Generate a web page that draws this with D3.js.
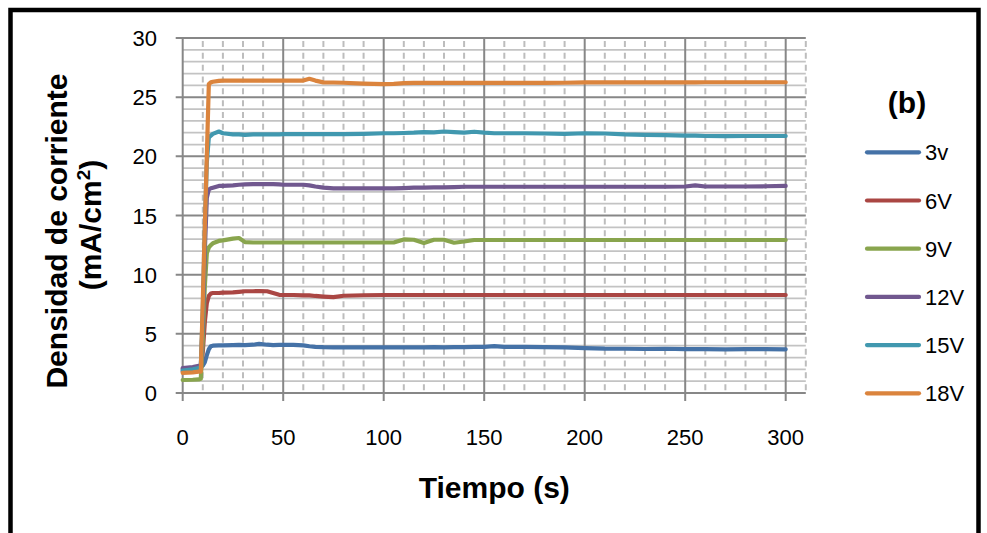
<!doctype html>
<html lang="es">
<head>
<meta charset="utf-8">
<script src="https://d3js.org/d3.v7.min.js"></script>
<style>
  body { margin: 0; background: #fff; }
  svg text { font-family: "Liberation Sans", Arial, sans-serif; fill: #000; }
  .tick-lbl { font-size: 22px; }
  .title { font-size: 30px; font-weight: bold; }
</style>
</head>
<body>
<svg id="chart" width="987" height="533"></svg>
<script>
// time samples (s)
const times = [0, 5, 8, 9, 10, 11, 12, 13, 14, 15, 18, 20, 25, 28, 31, 35, 38, 42, 45, 48,
  50, 55, 60, 63, 66, 70, 75, 80, 90, 100, 105, 110, 115, 120, 125, 130, 135, 140, 145, 150,
  155, 160, 170, 180, 190, 200, 210, 220, 230, 240, 250, 255, 260, 270, 280, 290, 300];

// current density (mA/cm2) per voltage
const v3 = [2.0, 2.1, 2.2, 2.25, 2.3, 2.6, 3.2, 3.7, 3.95, 4.0, 4.02, 4.03, 4.05, 4.07, 4.05, 4.08, 4.15, 4.08, 4.05, 4.06,
  4.06, 4.06, 4.02, 3.95, 3.9, 3.87, 3.86, 3.86, 3.86, 3.86, 3.86, 3.86, 3.86, 3.86, 3.87, 3.86, 3.88, 3.87, 3.9, 3.9,
  3.96, 3.9, 3.9, 3.88, 3.85, 3.8, 3.75, 3.74, 3.72, 3.74, 3.7, 3.72, 3.7, 3.68, 3.7, 3.7, 3.69];
const v6 = [1.8, 1.85, 1.9, 1.9, 3.5, 6.0, 7.6, 8.2, 8.4, 8.45, 8.45, 8.48, 8.5, 8.55, 8.6, 8.6, 8.62, 8.6, 8.45, 8.3,
  8.28, 8.28, 8.25, 8.25, 8.2, 8.15, 8.1, 8.22, 8.26, 8.28, 8.28, 8.28, 8.28, 8.28, 8.28, 8.28, 8.28, 8.28, 8.28, 8.28,
  8.28, 8.28, 8.28, 8.28, 8.28, 8.28, 8.28, 8.28, 8.28, 8.28, 8.28, 8.28, 8.28, 8.28, 8.28, 8.28, 8.28];
const v9 = [1.1, 1.12, 1.15, 1.2, 4.5, 9.0, 11.8, 12.3, 12.5, 12.65, 12.85, 12.9, 13.05, 13.1, 12.75, 12.72, 12.72, 12.72, 12.72, 12.72,
  12.72, 12.72, 12.72, 12.72, 12.72, 12.72, 12.72, 12.72, 12.72, 12.72, 12.72, 12.98, 12.95, 12.68, 12.95, 12.95, 12.7, 12.8, 12.93, 12.93,
  12.93, 12.93, 12.93, 12.93, 12.93, 12.93, 12.93, 12.93, 12.93, 12.93, 12.93, 12.93, 12.93, 12.93, 12.93, 12.93, 12.93];
const v12 = [2.1, 2.2, 2.3, 2.3, 6.0, 12.0, 16.5, 17.2, 17.3, 17.35, 17.5, 17.5, 17.55, 17.6, 17.63, 17.65, 17.65, 17.65, 17.65, 17.63,
  17.6, 17.6, 17.6, 17.55, 17.45, 17.35, 17.3, 17.3, 17.3, 17.3, 17.3, 17.32, 17.35, 17.35, 17.37, 17.38, 17.4, 17.43, 17.43, 17.43,
  17.43, 17.43, 17.43, 17.43, 17.43, 17.43, 17.43, 17.43, 17.43, 17.43, 17.45, 17.55, 17.45, 17.45, 17.45, 17.47, 17.5];
const v15 = [1.9, 2.0, 2.1, 2.1, 7.0, 14.0, 19.5, 21.6, 21.75, 21.9, 22.1, 21.95, 21.85, 21.85, 21.82, 21.85, 21.85, 21.85, 21.85, 21.85,
  21.87, 21.87, 21.87, 21.87, 21.87, 21.87, 21.87, 21.87, 21.9, 21.95, 21.95, 21.97, 22.0, 22.05, 22.03, 22.1, 22.05, 22.0, 22.08, 22.0,
  21.95, 21.95, 21.95, 21.93, 21.9, 21.95, 21.93, 21.85, 21.82, 21.8, 21.75, 21.75, 21.72, 21.7, 21.72, 21.72, 21.72];
const v18 = [1.7, 1.75, 1.8, 1.8, 7.8, 14.0, 20.0, 26.1, 26.25, 26.3, 26.38, 26.4, 26.4, 26.4, 26.4, 26.4, 26.4, 26.4, 26.4, 26.4,
  26.4, 26.4, 26.4, 26.55, 26.4, 26.25, 26.24, 26.22, 26.15, 26.1, 26.12, 26.18, 26.2, 26.2, 26.2, 26.2, 26.2, 26.2, 26.2, 26.2,
  26.2, 26.2, 26.2, 26.2, 26.22, 26.25, 26.25, 26.25, 26.25, 26.25, 26.25, 26.25, 26.26, 26.26, 26.26, 26.26, 26.26];

const seriesNames = ["3v", "6V", "9V", "12V", "15V", "18V"];
const seriesValues = [v3, v6, v9, v12, v15, v18];
const colors = ["#4572A7", "#AA4643", "#89A54E", "#71588F", "#4198AF", "#DB843D"];

const xTicks = [0, 50, 100, 150, 200, 250, 300];
const yTicks = [0, 5, 10, 15, 20, 25, 30];

const svg = d3.select("#chart");

// outer frame
svg.append("rect")
  .attr("x", 10.5).attr("y", 10).attr("width", 968).attr("height", 560)
  .attr("fill", "none").attr("stroke", "#000").attr("stroke-width", 4.5);

const x = d3.scaleLinear().domain([0, 310]).range([182.7, 805.8]);
const y = d3.scaleLinear().domain([0, 30]).range([393, 38]);
const unit = y(0) - y(1);

const grid = svg.append("g");

// minor horizontal lines (every 1)
grid.selectAll("line.hmin")
  .data(d3.range(1, 30).filter(d => d % 5 !== 0))
  .join("line")
  .attr("x1", x(0)).attr("x2", x(310))
  .attr("y1", d => y(d)).attr("y2", d => y(d))
  .attr("stroke", "#c3c3c3").attr("stroke-width", 1.75);

// minor vertical dashed lines (every 10)
grid.selectAll("line.vmin")
  .data(d3.range(10, 311, 10).filter(d => d % 50 !== 0))
  .join("line")
  .attr("x1", d => x(d)).attr("x2", d => x(d))
  .attr("y1", y(30)).attr("y2", y(0))
  .attr("stroke", "#bdbdbd").attr("stroke-width", 2)
  .attr("stroke-dasharray", `6,${unit - 6}`)
  .attr("stroke-dashoffset", unit - 3);

// major horizontal lines (every 5), with tick stub at the left
grid.selectAll("line.hmaj")
  .data(yTicks)
  .join("line")
  .attr("x1", x(0) - 7).attr("x2", x(310))
  .attr("y1", d => y(d)).attr("y2", d => y(d))
  .attr("stroke", "#878787").attr("stroke-width", 2);

// major vertical lines (every 50), with tick stub below
grid.selectAll("line.vmaj")
  .data(xTicks)
  .join("line")
  .attr("x1", d => x(d)).attr("x2", d => x(d))
  .attr("y1", y(30)).attr("y2", y(0) + 8)
  .attr("stroke", "#878787").attr("stroke-width", 2);

// tick labels
svg.append("g").selectAll("text")
  .data(yTicks)
  .join("text")
  .attr("class", "tick-lbl")
  .attr("x", 157).attr("y", d => y(d) + 8)
  .attr("text-anchor", "end")
  .text(d => d);

svg.append("g").selectAll("text")
  .data(xTicks)
  .join("text")
  .attr("class", "tick-lbl")
  .attr("x", d => x(d)).attr("y", 445)
  .attr("text-anchor", "middle")
  .text(d => d);

// series
const line = d3.line()
  .x((d, i) => x(times[i]))
  .y(d => y(d));

svg.append("g").selectAll("path")
  .data(seriesValues)
  .join("path")
  .attr("d", d => line(d))
  .attr("fill", "none")
  .attr("stroke", (d, i) => colors[i])
  .attr("stroke-width", 4.2)
  .attr("stroke-linejoin", "round")
  .attr("stroke-linecap", "round");

// axis titles
svg.append("text")
  .attr("class", "title")
  .attr("x", (x(0) + x(310)) / 2).attr("y", 498)
  .attr("text-anchor", "middle")
  .text("Tiempo (s)");

svg.append("text")
  .attr("class", "title")
  .attr("transform", "translate(67,231) rotate(-90)")
  .attr("text-anchor", "middle")
  .text("Densidad de corriente");

const t2 = svg.append("text")
  .attr("class", "title")
  .attr("transform", "translate(101,225) rotate(-90)")
  .attr("text-anchor", "middle");
t2.append("tspan").text("(mA/cm");
t2.append("tspan").attr("font-size", "19px").attr("dy", -11).text("2");
t2.append("tspan").attr("dy", 11).text(")");

// panel label
svg.append("text")
  .attr("class", "title")
  .attr("x", 907).attr("y", 113)
  .attr("text-anchor", "middle")
  .text("(b)");

// legend
const legend = svg.append("g").selectAll("g")
  .data(seriesNames)
  .join("g")
  .attr("transform", (d, i) => `translate(0,${152.3 + i * 48.2})`);

legend.append("line")
  .attr("x1", 867).attr("x2", 919)
  .attr("stroke", (d, i) => colors[i])
  .attr("stroke-width", 4.2)
  .attr("stroke-linecap", "round");

legend.append("text")
  .attr("class", "tick-lbl")
  .attr("x", 925).attr("y", 8)
  .text(d => d);
</script>
</body>
</html>
